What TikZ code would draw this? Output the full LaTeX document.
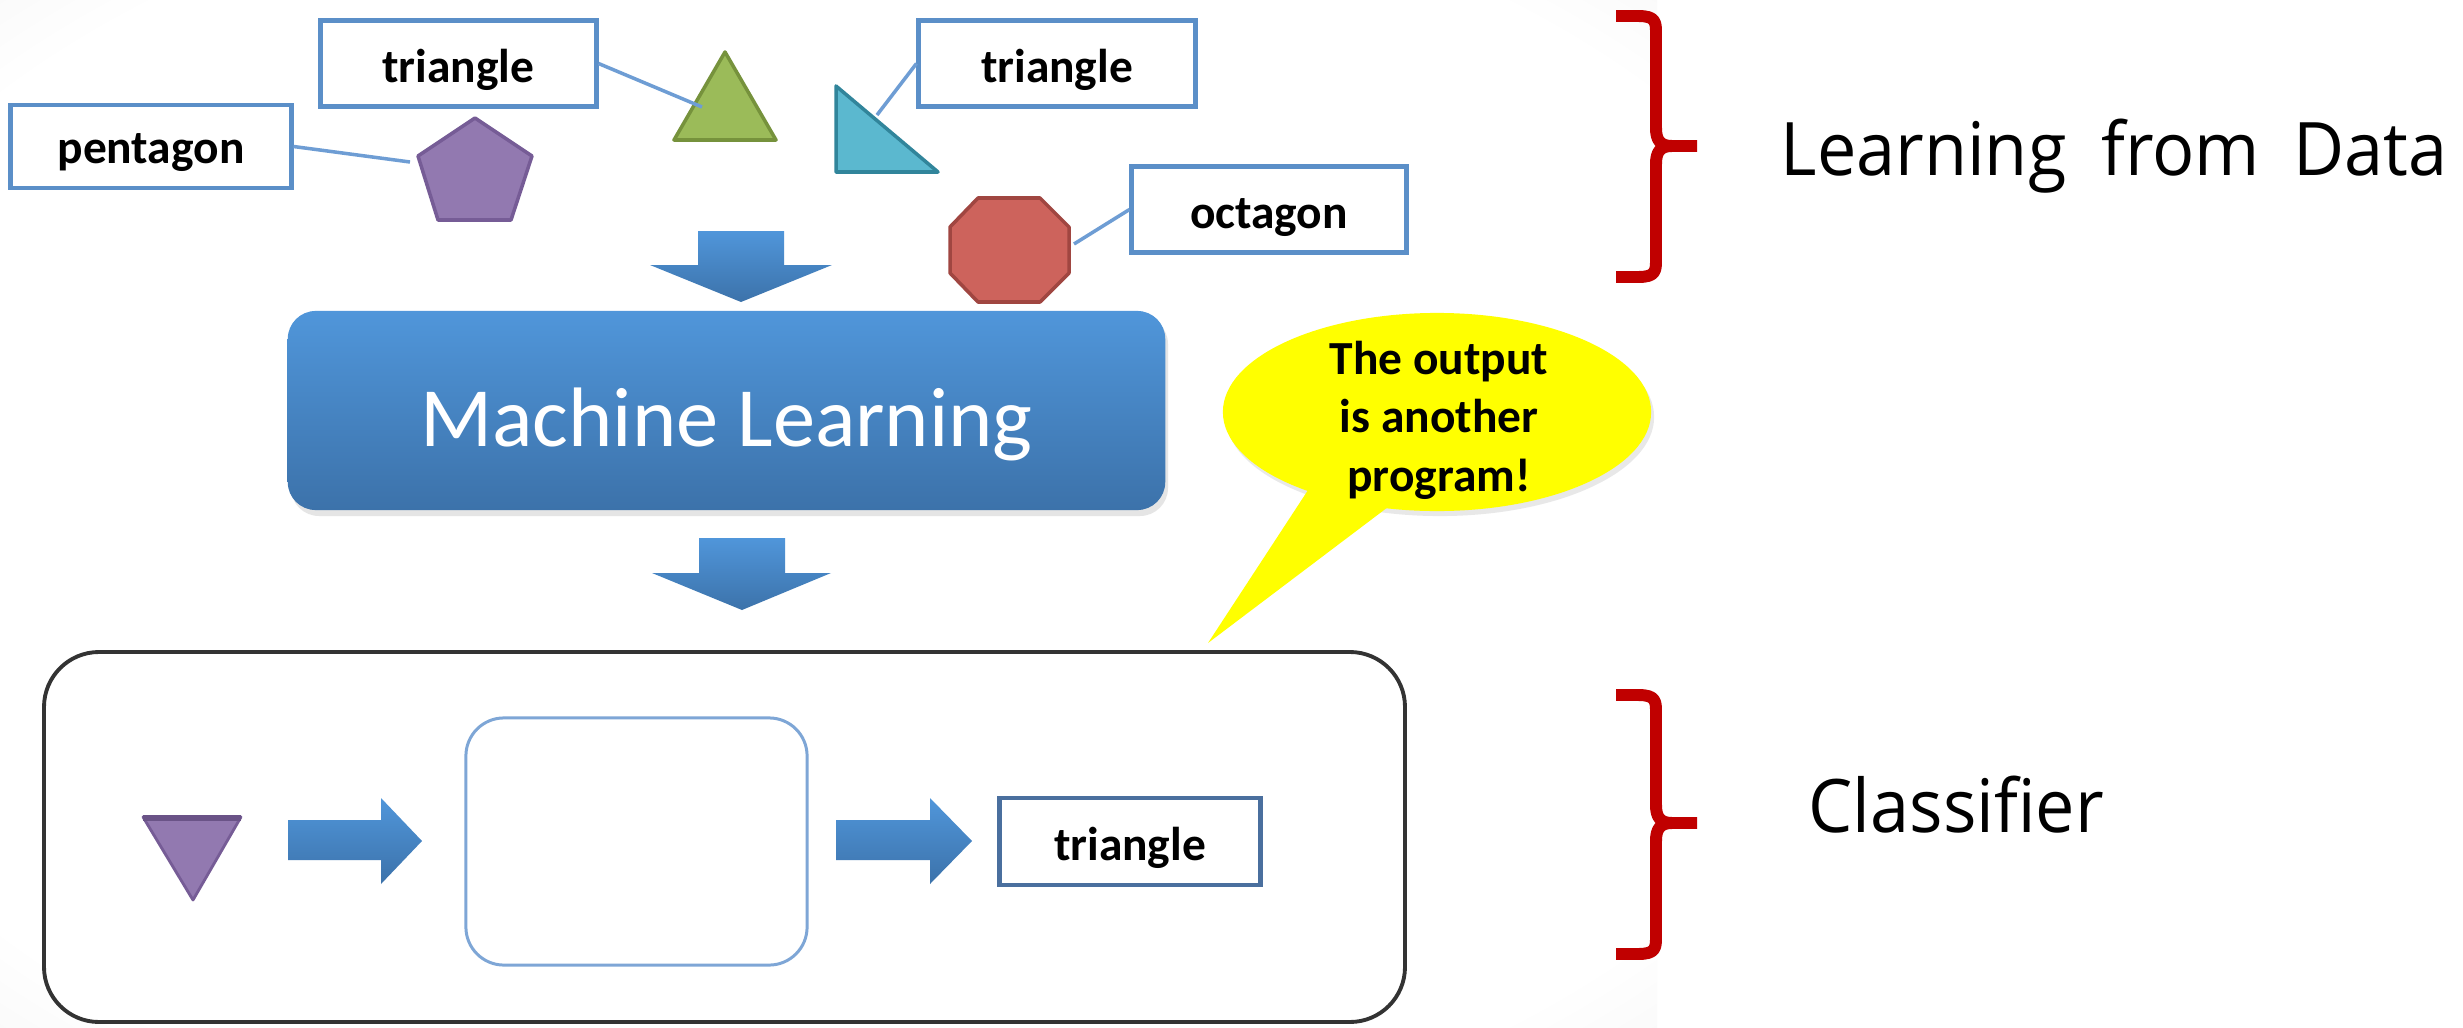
\documentclass[tikz,border=0pt]{standalone}
\usepackage{fontspec}
\setmainfont{Carlito}
\newfontfamily\osans{Open Sans}
\usetikzlibrary{shapes.geometric}
\definecolor{boxblue}{RGB}{91,143,200}
\definecolor{linkblue}{RGB}{110,157,212}
\definecolor{outblue}{RGB}{74,111,158}
\definecolor{armtop}{RGB}{80,150,218}
\definecolor{armbot}{RGB}{60,114,170}
\definecolor{pentfill}{RGB}{146,121,176}
\definecolor{pentline}{RGB}{118,92,150}
\definecolor{grnfill}{RGB}{155,187,89}
\definecolor{grnline}{RGB}{118,146,60}
\definecolor{cyfill}{RGB}{91,184,207}
\definecolor{cyline}{RGB}{49,133,155}
\definecolor{octfill}{RGB}{205,99,92}
\definecolor{octline}{RGB}{160,70,65}
\definecolor{bubyel}{RGB}{255,255,0}
\definecolor{bracered}{RGB}{192,0,0}
\definecolor{bggray}{RGB}{230,230,230}
\definecolor{innerblue}{RGB}{126,166,214}
\pgfdeclareradialshading{slidebg}{\pgfpoint{0bp}{0bp}}{color(0bp)=(white); color(32bp)=(white); color(50bp)=(bggray); color(72bp)=(bggray)}
\begin{document}
\begin{tikzpicture}[x=0.01cm,y=-0.01cm,
  lbl/.style={draw=boxblue, line width=1.4pt, fill=white, inner sep=0pt,
    minimum width=2.75cm, minimum height=0.86cm, text height=10.8pt, text depth=0pt,
    font=\bfseries\fontsize{13.5pt}{16pt}\selectfont},
  link/.style={draw=linkblue, line width=1pt},
  bigarrow/.style={top color=armtop, bottom color=armbot, draw=none},
  brace/.style={draw=bracered, line width=3.4pt, line cap=butt, line join=round},
  sidelabel/.style={anchor=base west, inner sep=0pt, font=\osans\fontsize{21pt}{26pt}\selectfont}]
\useasboundingbox (0,0) rectangle (2463,1027);
\fill[white] (0,0) rectangle (2463,1027);
\shade[shading=slidebg] (0,0) rectangle (1657,1027);

% label boxes
\node[lbl, minimum width=2.80cm, minimum height=0.83cm, text height=9.4pt] (pentbox) at (151,146.5) {pentagon};
\node[lbl] (tri1box) at (458.5,63.5) {triangle};
\node[lbl, minimum width=2.76cm] (tri2box) at (1057,63.5) {triangle};
\node[lbl, minimum width=2.74cm] (octbox) at (1269,209.5) {octagon};

% shapes
\filldraw[fill=pentfill, draw=pentline, line width=1pt, line join=round]
  (475,118) -- (532,156) -- (511,220) -- (438,220) -- (418,156) -- cycle;
\filldraw[fill=grnfill, draw=grnline, line width=1pt, line join=round]
  (725,52) -- (776,140) -- (674,140) -- cycle;
\filldraw[fill=cyfill, draw=cyline, line width=1pt, line join=round]
  (836,86) -- (938,172) -- (836,172) -- cycle;
\filldraw[fill=octfill, draw=octline, line width=1pt, line join=round]
  (978,198) -- (1040,198) -- (1069,227) -- (1069,273) -- (1040,302) -- (978,302) -- (950,273) -- (950,227) -- cycle;

\coordinate (pentend) at (410,162);
\coordinate (tri1end) at (702,107);
\coordinate (tri2end) at (877,115);
\coordinate (octend) at (1074,244);
\draw[link] (pentbox.east) -- (pentend);
\draw[link] (tri1box.east) -- (tri1end);
\draw[link] (tri2box.west) -- (tri2end);
\draw[link] (octbox.west) -- (octend);

% down arrows
\path[bigarrow] (698,231) -- (784,231) -- (784,265) -- (832,265) -- (741,302) -- (650,265) -- (698,265) -- cycle;
\path[bigarrow] (699,538) -- (785,538) -- (785,573) -- (831,573) -- (742,610) -- (652,573) -- (699,573) -- cycle;

% machine learning box
\fill[black!10, rounded corners=0.28cm] (291,316) rectangle (1168,516);
\node[rounded corners=0.28cm, top color=armtop, bottom color=armbot, draw=none,
  minimum width=8.77cm, minimum height=1.99cm, inner sep=0pt, text=white,
  text height=20.5pt, text depth=0pt,
  font=\fontsize{24pt}{28pt}\selectfont] (ml) at (726.5,410.5) {Machine Learning};

% speech bubble
\fill[black!9] (1440,417) ellipse [x radius=2.14cm, y radius=0.99cm];
\fill[bubyel] (1437,412) ellipse [x radius=2.14cm, y radius=0.99cm];
\fill[bubyel] (1312,484) -- (1208,643) -- (1392,504) -- cycle;
\node[align=center, inner sep=0pt, font=\bfseries\fontsize{13.5pt}{16.6pt}\selectfont] (bubtext) at (1439,420)
  {The output\\is another\\program!};

% classifier box
\draw[rounded corners=0.55cm, draw=black!80, line width=1.1pt, fill=white] (44,652) rectangle (1405,1022);
\filldraw[fill=pentfill, draw=pentline, line width=0.8pt, line join=round]
  (143,817) -- (241,817) -- (193,900) -- cycle;
\draw[pentline!90!black, line width=1.6pt] (143,818) -- (241,818);
\path[bigarrow] (288,820) -- (381,820) -- (381,798) -- (422,841) -- (381,884) -- (381,860) -- (288,860) -- cycle;
\node[draw=innerblue, rounded corners=0.38cm, line width=0.85pt, fill=white,
  minimum width=3.41cm, minimum height=2.47cm, inner sep=0pt] (prog) at (636.5,841.5) {};
\path[bigarrow] (836,820) -- (930,820) -- (930,798) -- (972,841) -- (930,884) -- (930,860) -- (836,860) -- cycle;
\node[lbl, draw=outblue, minimum width=2.60cm, minimum height=0.87cm] (outbox) at (1130,841.5) {triangle};

% braces
\draw[brace] (1616,16) -- (1638,16) .. controls (1656,16) and (1656,22) .. (1656,34) -- (1656,128)
  .. controls (1656,140) and (1660,146) .. (1672,146) -- (1697,146);
\draw[brace] (1672,146) .. controls (1660,146) and (1656,152) .. (1656,164) -- (1656,259)
  .. controls (1656,271) and (1656,277) .. (1638,277) -- (1616,277);
\draw[brace] (1616,695) -- (1638,695) .. controls (1656,695) and (1656,701) .. (1656,713) -- (1656,805)
  .. controls (1656,817) and (1660,823) .. (1672,823) -- (1697,823);
\draw[brace] (1672,823) .. controls (1660,823) and (1656,829) .. (1656,841) -- (1656,936)
  .. controls (1656,948) and (1656,954) .. (1638,954) -- (1616,954);

\node[sidelabel] (ldata) at (1780,175) {\scalebox{0.95}[1]{Learning\hspace{10.5pt}from\hspace{10pt}Data}};
\node[sidelabel] (lclass) at (1808,832) {\scalebox{0.95}[1]{Classifier}};
\end{tikzpicture}
\end{document}
